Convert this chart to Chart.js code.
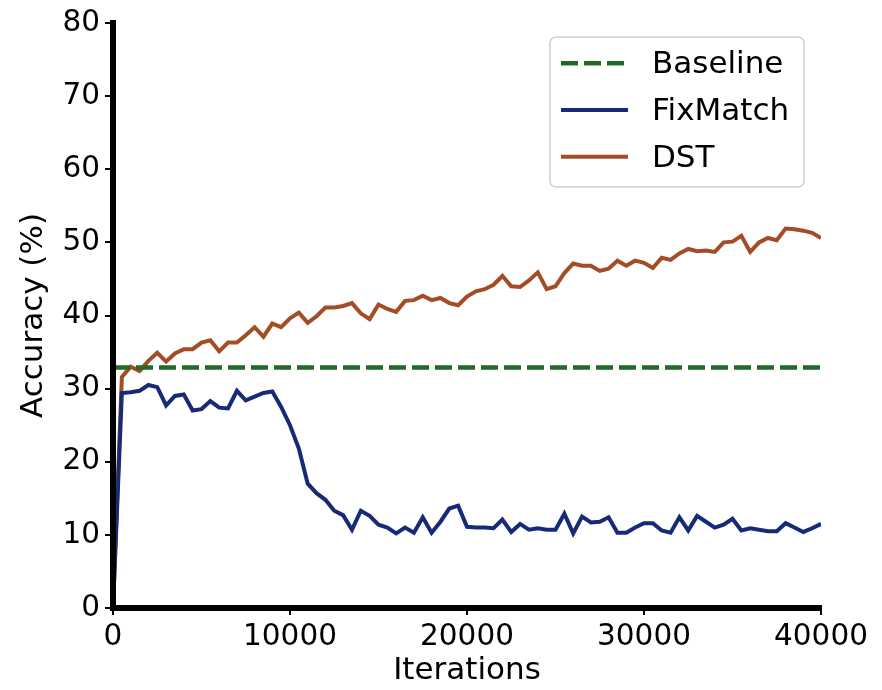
<!DOCTYPE html>
<html>
<head>
<meta charset="utf-8">
<script src="https://cdn.jsdelivr.net/npm/chart.js@4/dist/chart.umd.min.js"></script>
<style>
  html, body { margin: 0; padding: 0; background: #ffffff; }
  #wrap { width: 882px; height: 690px; position: relative; }
</style>
</head>
<body>
<div id="wrap"><canvas id="c" width="882" height="690"></canvas></div>
<script>
// ---- data ----
const iterations = [0,500,1000,1500,2000,2500,3000,3500,4000,4500,5000,5500,6000,6500,7000,7500,8000,8500,9000,9500,
  10000,10500,11000,11500,12000,12500,13000,13500,14000,14500,15000,15500,16000,16500,17000,17500,18000,18500,19000,19500,
  20000,20500,21000,21500,22000,22500,23000,23500,24000,24500,25000,25500,26000,26500,27000,27500,28000,28500,29000,29500,
  30000,30500,31000,31500,32000,32500,33000,33500,34000,34500,35000,35500,36000,36500,37000,37500,38000,38500,39000,39500,40000];

const fixMatch = [0,29.4,29.5,29.7,30.5,30.2,27.7,29.0,29.2,27.0,
  27.2,28.3,27.4,27.3,29.7,28.4,28.9,29.4,29.6,27.5,
  25.0,21.8,17.0,15.7,14.8,13.3,12.7,10.7,13.3,12.6,
  11.4,11.0,10.2,11.0,10.3,12.4,10.3,11.8,13.6,14.0,
  11.1,11.0,11.0,10.9,12.1,10.4,11.5,10.7,10.9,10.7,
  10.7,12.9,10.2,12.5,11.7,11.8,12.4,10.3,10.3,11.0,
  11.6,11.6,10.6,10.3,12.4,10.6,12.6,11.8,11.0,11.4,
  12.2,10.6,10.9,10.7,10.5,10.5,11.6,11.0,10.4,10.9,11.5];

const dst = [0,31.6,33.0,32.4,33.8,34.9,33.7,34.8,35.4,35.4,
  36.3,36.6,35.1,36.3,36.3,37.3,38.4,37.1,38.9,38.4,
  39.6,40.4,39.0,39.9,41.1,41.1,41.3,41.7,40.3,39.5,
  41.5,40.9,40.5,42.0,42.1,42.7,42.1,42.4,41.7,41.4,
  42.6,43.3,43.6,44.2,45.4,44.0,43.9,44.8,45.9,43.6,
  44.0,45.8,47.1,46.8,46.8,46.1,46.4,47.5,46.8,47.5,
  47.2,46.5,47.9,47.6,48.5,49.1,48.8,48.9,48.7,50.0,
  50.1,50.9,48.7,50.0,50.6,50.3,51.9,51.8,51.6,51.3,50.6];

const baselineX = [0, 40000];
const baselineY = [32.9, 32.9];

const seriesLabels = ['Baseline', 'FixMatch', 'DST'];
const xTicks = [0, 10000, 20000, 30000, 40000];
const yTicks = [0, 10, 20, 30, 40, 50, 60, 70, 80];

// ---- styles ----
const FONT = 'DejaVu Sans';
const FS = 29.5;
const FS_TITLE = 31;
const FS_LEG = 31;
const GREEN = '#1f6b26';
const BLUE = '#172a78';
const BROWN = '#a34d27';

const pts = (xs, ys) => xs.map((x, i) => ({ x: x, y: ys[i] }));

const legendPlugin = {
  id: 'boxLegend',
  afterDraw(chart) {
    const ctx = chart.ctx;
    const L = 550, T = 37, R = 804, B = 187, rad = 6;
    ctx.save();
    ctx.beginPath();
    ctx.moveTo(L + rad, T);
    ctx.lineTo(R - rad, T);
    ctx.arcTo(R, T, R, T + rad, rad);
    ctx.lineTo(R, B - rad);
    ctx.arcTo(R, B, R - rad, B, rad);
    ctx.lineTo(L + rad, B);
    ctx.arcTo(L, B, L, B - rad, rad);
    ctx.lineTo(L, T + rad);
    ctx.arcTo(L, T, L + rad, T, rad);
    ctx.closePath();
    ctx.fillStyle = 'rgba(255,255,255,0.85)';
    ctx.fill();
    ctx.lineWidth = 1.5;
    ctx.strokeStyle = '#d0d0d0';
    ctx.stroke();
    const rows = [63.3, 110, 156.7];
    chart.data.datasets.forEach((ds, i) => {
      const y = rows[i];
      ctx.beginPath();
      ctx.setLineDash(ds.borderDash || []);
      ctx.lineDashOffset = 0;
      ctx.strokeStyle = ds.borderColor;
      ctx.lineWidth = ds.borderWidth;
      ctx.lineCap = 'butt';
      ctx.moveTo(561, y);
      ctx.lineTo(628, y);
      ctx.stroke();
      ctx.setLineDash([]);
      ctx.fillStyle = '#000';
      ctx.font = FS_LEG + 'px "' + FONT + '"';
      ctx.textAlign = 'left';
      ctx.textBaseline = 'middle';
      ctx.fillText(ds.label, 652, y + 2);
    });
    ctx.restore();
  }
};

new Chart(document.getElementById('c'), {
  type: 'line',
  data: {
    datasets: [
      { label: seriesLabels[0], data: pts(baselineX, baselineY), borderColor: GREEN, borderWidth: 4.5,
        borderDash: [17, 6], pointRadius: 0, fill: false, tension: 0 },
      { label: seriesLabels[1], data: pts(iterations, fixMatch), borderColor: BLUE, borderWidth: 4,
        pointRadius: 0, fill: false, tension: 0 },
      { label: seriesLabels[2], data: pts(iterations, dst), borderColor: BROWN, borderWidth: 4,
        pointRadius: 0, fill: false, tension: 0 }
    ]
  },
  options: {
    responsive: false,
    animation: false,
    devicePixelRatio: 1,
    layout: { padding: { left: 0, top: 23, right: 61, bottom: 0 } },
    plugins: { legend: { display: false }, tooltip: { enabled: false } },
    scales: {
      x: {
        type: 'linear', min: 0, max: 40000,
        afterBuildTicks: (s) => { s.ticks = xTicks.map(v => ({ value: v })); },
        afterFit: (s) => { s.height = 82; },
        grid: { drawOnChartArea: false, drawTicks: true, tickLength: 7, tickColor: '#000', lineWidth: 2 },
        border: { display: true, color: '#000', width: 6, z: 1 },
        ticks: { color: '#000', font: { family: FONT, size: FS }, padding: 5, maxRotation: 0,
          callback: (v) => String(v) },
        title: { display: true, text: 'Iterations', color: '#000', font: { family: FONT, size: FS_TITLE },
          padding: { top: 0, bottom: 0 } }
      },
      y: {
        type: 'linear', min: 0, max: 80,
        afterBuildTicks: (s) => { s.ticks = yTicks.map(v => ({ value: v })); },
        afterFit: (s) => { s.width = 113; },
        grid: { drawOnChartArea: false, drawTicks: true, tickLength: 8, tickColor: '#000', lineWidth: 2 },
        border: { display: true, color: '#000', width: 6, z: 1 },
        ticks: { color: '#000', font: { family: FONT, size: FS }, padding: 5,
          callback: (v) => String(v) },
        title: { display: true, text: 'Accuracy (%)', color: '#000', font: { family: FONT, size: FS_TITLE },
          padding: { top: 15, bottom: 0 } }
      }
    }
  },
  plugins: [legendPlugin]
});
</script>
</body>
</html>
